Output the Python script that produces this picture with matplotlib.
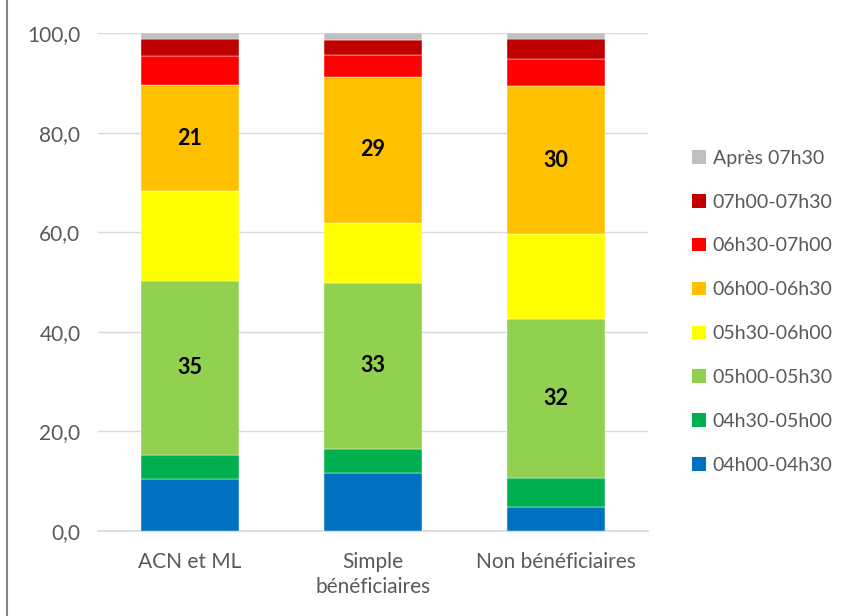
import matplotlib.pyplot as plt
from matplotlib.patches import Patch
from matplotlib.lines import Line2D
import numpy as np

groups = ["ACN et ML", "Simple\nbénéficiaires", "Non bénéficiaires"]
tranches = ["04h00-04h30", "04h30-05h00", "05h00-05h30", "05h30-06h00",
            "06h00-06h30", "06h30-07h00", "07h00-07h30", "Après 07h30"]
couleurs = ["#0070C0", "#00B050", "#92D050", "#FFFF00",
            "#FFC000", "#FF0000", "#C00000", "#BFBFBF"]

# part (%) de chaque tranche, par groupe
acn = [10.4, 4.9, 34.9, 18.1, 21.3, 5.8, 3.4, 1.2]
simple = [11.6, 4.9, 33.3, 12.1, 29.4, 4.3, 3.0, 1.4]
non_benef = [4.9, 5.7, 32.0, 17.0, 29.8, 5.4, 4.0, 1.2]
# seules ces tranches sont etiquetees
etiquetees = ["05h00-05h30", "06h00-06h30"]

plt.rcParams['font.family'] = ['Lato', 'DejaVu Sans']

data = np.array([acn, simple, non_benef])
x = np.arange(len(groups))

fig = plt.figure(figsize=(8.49, 6.16), dpi=100)
ax = fig.add_axes([0.116, 0.138, 0.6467, 0.808])

bottom = np.zeros(len(groups))
for j, t in enumerate(tranches):
    vals = data[:, j]
    ax.bar(x, vals, 0.535, bottom=bottom, color=couleurs[j], label=t,
           edgecolor='white', linewidth=0.3, zorder=3)
    if t in etiquetees:
        for xi, b, v in zip(x, bottom, vals):
            ax.text(xi, b + v / 2, f"{v:.0f}", ha='center', va='center',
                    fontsize=15.5, fontweight='bold', color='black', zorder=4)
    bottom += vals

ax.set_xlim(-0.5, 2.5)
ax.set_ylim(0, 100)
ax.set_yticks(np.arange(0, 101, 20))
ax.set_yticklabels([f"{v:.1f}".replace('.', ',') for v in np.arange(0, 101, 20)])
ax.set_xticks(x)
ax.set_xticklabels(groups, linespacing=1.3)
ax.grid(axis='y', color='#D9D9D9', lw=1, zorder=0)
for s in ['top', 'right', 'left']:
    ax.spines[s].set_visible(False)
ax.spines['bottom'].set_color('#D9D9D9')
ax.spines['bottom'].set_linewidth(1.2)
ax.tick_params(axis='both', length=0, labelsize=15, colors='#595959')
ax.tick_params(axis='y', pad=13)
ax.tick_params(axis='x', pad=15)

handles = [Patch(facecolor=c, label=t) for c, t in zip(couleurs, tranches)][::-1]
fig.legend(handles=handles, loc='center left', bbox_to_anchor=(0.795, 0.494),
           frameon=False, fontsize=14, labelcolor='#595959',
           handlelength=0.7, handleheight=0.7, handletextpad=0.35,
           labelspacing=1.38)

fig.add_artist(Line2D([7 / 849, 7 / 849], [0, 1], color='#868686', lw=1.5))

fig.savefig("out.png", dpi=100)
